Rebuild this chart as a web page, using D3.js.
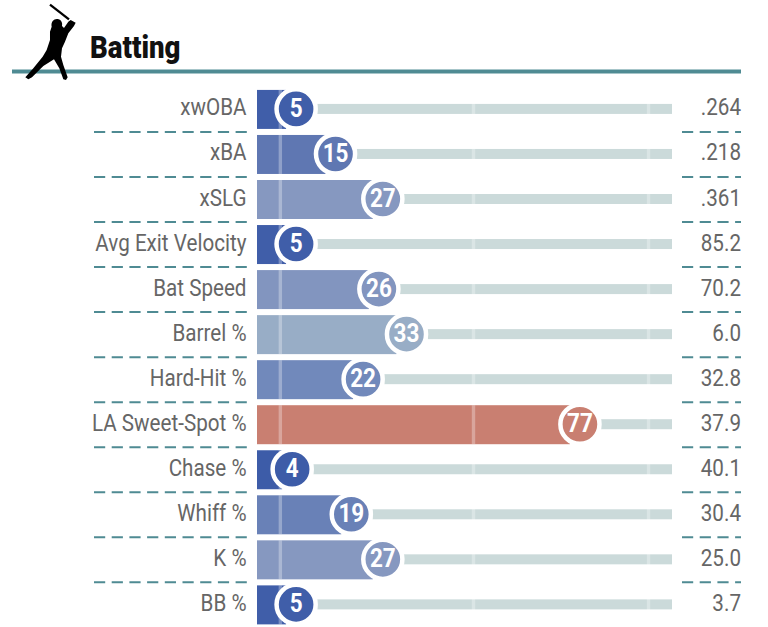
<!DOCTYPE html>
<html><head><meta charset="utf-8">
<script src="https://cdnjs.cloudflare.com/ajax/libs/d3/7.8.5/d3.min.js"></script>
<style>html,body{margin:0;background:#fff}svg{display:block}text{font-family:Roboto,sans-serif}</style>
</head><body><div id="c"></div>
<script>
const metrics = ["xwOBA","xBA","xSLG","Avg Exit Velocity","Bat Speed","Barrel %","Hard-Hit %","LA Sweet-Spot %","Chase %","Whiff %","K %","BB %"];
const percentiles = [5,15,27,5,26,33,22,77,4,19,27,5];
const values = [".264",".218",".361","85.2","70.2","6.0","32.8","37.9","40.1","30.4","25.0","3.7"];
const guideTicks = [1,50,94.4];
const colorStops = [4,15,22,27,33,77];
const colorRange = ["#3d5ca8","#5f77b2","#7189bb","#8698c0","#98adc6","#c97f71"];

const W=768,H=627;
const svg=d3.select("#c").append("svg").attr("width",W).attr("height",H);
const x=d3.scaleLinear().domain([0,100]).range([276.4,670.6]);
const y=d3.scaleBand().domain(metrics).range([86.9,627.4]);
const color=d3.scaleLinear().domain(colorStops).range(colorRange);
const rows=metrics.map((m,i)=>({m,p:percentiles[i],v:values[i]}));
const barLeft=257,trackRight=672,barH=39,trackH=10,R=17.5,ring=4.5,squeeze=.86;
const gray="#666",teal="#4f8b93";

// header
svg.append("rect").attr("x",12).attr("y",69.5).attr("width",729).attr("height",4).attr("fill",teal);
const icon=svg.append("g").attr("transform","scale(0.3333)");
icon.append("line").attr("x1",150).attr("y1",14).attr("x2",207).attr("y2",58).attr("stroke","#000").attr("stroke-width",7);
icon.append("path").attr("fill","#000")
 .attr("d","M155,80C152,65 162,56 172,57C184,58 188,68 186,78L192,84L205,65L212,60L227,68L222,78L205,100L195,125L186,145L183,170L190,195L203,232L198,240L190,238L178,205L162,178L130,198L96,232L85,238L76,232L100,205L128,170L140,150L150,120L150,95Z");
svg.append("text").attr("transform","translate(90,58) scale(.89,1)").attr("font-size",31).attr("font-weight",900).attr("fill","#111").text("Batting");

// dashed separators
const seps=svg.append("g").attr("stroke",teal).attr("stroke-width",2).attr("stroke-dasharray","11.2,6.5");
rows.slice(0,-1).forEach(d=>{
  const yy=y(d.m)+y.bandwidth();
  seps.append("line").attr("x1",94).attr("x2",247).attr("y1",yy).attr("y2",yy);
  seps.append("line").attr("x1",682).attr("x2",741).attr("y1",yy).attr("y2",yy);
});

const row=svg.selectAll("g.row").data(rows).join("g").attr("class","row")
  .attr("transform",d=>`translate(0,${y(d.m)+y.bandwidth()/2})`);
row.append("rect").attr("x",barLeft).attr("y",-barH/2).attr("height",barH)
  .attr("width",d=>x(d.p)-10-barLeft).attr("fill",d=>color(d.p));
row.append("rect").attr("x",d=>x(d.p)+21).attr("y",-trackH/2-.5).attr("height",trackH)
  .attr("width",d=>trackRight-x(d.p)-21).attr("fill","#cbdada");
row.selectAll("rect.t").data(guideTicks).join("rect").attr("class","t")
  .attr("x",t=>x(t)-1.7).attr("width",3.4).attr("y",-barH/2).attr("height",barH)
  .attr("fill","#fff").attr("opacity",.3);
row.append("circle").attr("cx",d=>x(d.p)).attr("cy",-.5).attr("r",R+ring/2-.2)
  .attr("fill",d=>color(d.p)).attr("stroke","#fff").attr("stroke-width",ring);
row.append("text").attr("transform",d=>`translate(${x(d.p)},7.5) scale(.9,1)`)
  .attr("text-anchor","middle").attr("font-size",25).attr("font-weight",700).attr("fill","#fff").text(d=>d.p);
row.append("text").attr("transform",`translate(246.5,6) scale(${squeeze},1)`)
  .attr("text-anchor","end").attr("font-size",24).attr("fill",gray).text(d=>d.m);
row.append("text").attr("transform",`translate(741,6) scale(${squeeze},1)`)
  .attr("text-anchor","end").attr("font-size",24).attr("fill",gray).text(d=>d.v);
</script></body></html>
